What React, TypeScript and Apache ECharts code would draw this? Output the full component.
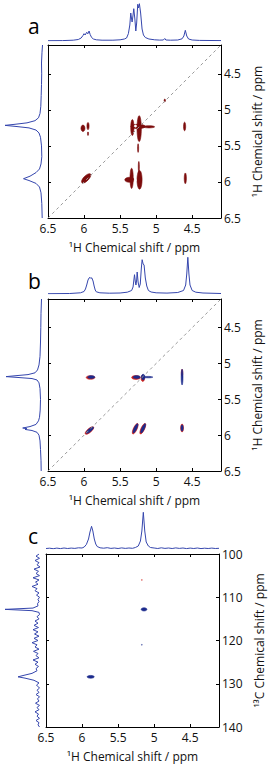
import React, { useEffect, useRef } from "react";
import * as echarts from "echarts";

// ---------- data ----------
const PPM_TICKS = [4.5, 5, 5.5, 6, 6.5];
const C13_TICKS = [100, 110, 120, 130, 140];
const PANEL_LABELS = ["a", "b", "c"];
const H_NAME = "¹H Chemical shift / ppm";
const C_NAME = "¹³C Chemical shift / ppm";

// 1D projections: [ppm, intensity]
const topProjA = [
  [6.5, 0.3], [6.3, 0.4], [6.15, 0.8], [6.08, 1.5], [6.04, 3.0], [6.015, 5.5], [6.0, 7.3], [5.985, 6.0],
  [5.963, 8.7], [5.948, 7.2], [5.93, 10.0], [5.915, 6.5], [5.895, 3.5], [5.87, 2.0], [5.83, 1.2], [5.75, 0.8],
  [5.6, 0.8], [5.5, 1.2], [5.44, 2.0], [5.41, 3.0], [5.385, 7.3], [5.365, 16], [5.352, 28], [5.34, 22],
  [5.333, 19], [5.32, 26], [5.31, 32.3], [5.295, 22], [5.282, 10], [5.27, 18], [5.255, 36.7], [5.245, 33],
  [5.232, 37.3], [5.215, 28], [5.195, 12], [5.176, 6], [5.15, 3.5], [5.1, 2.0], [5.02, 1.2], [4.95, 0.9],
  [4.9, 1.0], [4.88, 2.5], [4.865, 1.0], [4.8, 0.8], [4.7, 1.0], [4.64, 2.2], [4.615, 5], [4.595, 10.7],
  [4.575, 5], [4.55, 2], [4.5, 1.0], [4.4, 0.6], [4.1, 0.4],
];
const leftProjA = [
  [4.1, 0.5], [4.2, 1.0], [4.35, 1.5], [4.5, 1.3], [4.65, 1.5], [4.8, 1.8], [4.95, 2.2], [5.05, 3.0],
  [5.11, 4.5], [5.15, 8], [5.18, 16], [5.2, 28], [5.215, 38], [5.23, 27], [5.25, 14], [5.28, 7],
  [5.32, 4], [5.38, 2.5], [5.5, 1.5], [5.65, 1.2], [5.75, 2.0], [5.82, 3.5], [5.87, 7], [5.92, 13],
  [5.955, 19.5], [5.98, 14], [6.02, 7], [6.07, 3.5], [6.15, 2], [6.3, 1.2], [6.5, 0.8],
];
const topProjB = [
  [6.5, 0.3], [6.2, 0.5], [6.05, 1.2], [6.0, 2.5], [5.98, 5], [5.963, 9], [5.945, 14], [5.93, 16],
  [5.917, 16.7], [5.905, 15.5], [5.893, 16.2], [5.875, 13], [5.86, 8], [5.845, 4], [5.83, 2.2], [5.78, 1.2],
  [5.65, 0.8], [5.5, 1.0], [5.4, 1.8], [5.34, 3.5], [5.32, 7], [5.3, 19.3], [5.288, 12], [5.28, 9],
  [5.27, 14], [5.263, 22], [5.25, 12], [5.235, 6.5], [5.22, 10], [5.205, 26], [5.194, 34.3], [5.18, 30],
  [5.167, 29], [5.15, 16], [5.13, 8], [5.107, 3.5], [5.07, 2.0], [5.0, 1.2], [4.85, 0.9], [4.7, 1.5],
  [4.62, 3.5], [4.59, 9], [4.575, 20], [4.56, 36.7], [4.545, 20], [4.53, 9], [4.5, 3.5], [4.45, 1.8],
  [4.35, 1.0], [4.1, 0.5],
];
const leftProjB = [
  [4.1, 0.5], [4.3, 1.0], [4.5, 1.2], [4.7, 1.5], [4.9, 2.0], [5.02, 3], [5.09, 4.5], [5.13, 7],
  [5.155, 14], [5.17, 26], [5.183, 36], [5.195, 24], [5.21, 10], [5.23, 5], [5.27, 3], [5.35, 2],
  [5.5, 1.5], [5.65, 1.8], [5.75, 2.5], [5.8, 3.5], [5.85, 6], [5.88, 12], [5.9, 19.3], [5.91, 15],
  [5.92, 17], [5.935, 10], [5.96, 5], [6.0, 3], [6.08, 2], [6.2, 1.5], [6.35, 1.0], [6.5, 0.8],
];
const topProjC = [
  [6.5, 0.5], [6.45, 0.8], [6.4, 0.3], [6.35, 0.9], [6.3, 0.4], [6.25, 1.0], [6.2, 0.5], [6.15, 0.9],
  [6.1, 0.6], [6.05, 1.2], [6.0, 1.0], [5.97, 2.0], [5.94, 4.5], [5.91, 10], [5.89, 17], [5.868, 22.7],
  [5.85, 18], [5.83, 10], [5.81, 5], [5.79, 2.5], [5.75, 1.2], [5.7, 0.8], [5.65, 1.3], [5.6, 0.6],
  [5.55, 1.0], [5.5, 0.5], [5.45, 1.1], [5.4, 0.6], [5.35, 1.0], [5.3, 0.7], [5.26, 1.5], [5.22, 3],
  [5.19, 8], [5.17, 18], [5.15, 36.7], [5.13, 18], [5.11, 7], [5.08, 3], [5.05, 1.5], [5.0, 1.0],
  [4.95, 0.5], [4.9, 1.2], [4.85, 0.6], [4.8, 1.0], [4.75, 0.5], [4.7, 1.1], [4.65, 0.6], [4.6, 1.0],
  [4.55, 0.4], [4.5, 0.9], [4.45, 0.5], [4.4, 1.0], [4.35, 0.4], [4.3, 0.8], [4.25, 0.5], [4.2, 0.9],
  [4.15, 0.5], [4.1, 0.7],
];
const leftProjC = [
  [100, 2], [100.5, 5], [101, 1.5], [101.5, 6], [102, 2], [102.5, 4], [103, 1], [103.5, 7], [104, 2.5],
  [104.5, 5], [105, 1.5], [105.5, 8], [106, 2], [106.5, 5.5], [107, 3], [107.5, 9], [108, 4], [108.5, 6],
  [109, 2], [109.5, 4.5], [110, 1.5], [110.5, 3], [111, 2], [111.5, 3.5], [112, 3], [112.5, 8], [112.8, 36],
  [113.1, 9], [113.5, 2], [114, 1.5], [114.5, 4], [115, 2], [115.5, 6], [116, 3], [116.5, 7], [117, 2.5],
  [117.5, 8], [118, 3], [118.5, 6.5], [119, 2], [119.5, 7], [120, 3], [120.5, 9], [121, 4], [121.5, 6],
  [122, 2], [122.5, 7.5], [123, 3], [123.5, 5], [124, 2], [124.5, 8], [125, 3], [125.5, 6], [126, 2.5],
  [126.5, 5], [127, 4], [127.6, 9], [128.1, 18], [128.4, 23], [128.7, 16], [129.2, 7], [129.8, 2],
  [130.3, 4.5], [131, 1.5], [131.5, 4], [132, 2], [132.5, 5], [133, 1.5], [133.5, 3.5], [134, 2],
  [134.5, 5.5], [135, 1.5], [135.5, 4], [136, 2], [136.5, 6], [137, 2.5], [137.5, 4], [138, 1.5],
  [138.5, 5], [139, 2], [139.5, 3], [140, 1.5],
];

// 2D cross-peak contour blobs: [ppmX, ppmY, widthX, widthY, angleDeg]
const contourA = [
  [6.015, 5.255, 0.055, 0.09, 0], [5.945, 5.225, 0.03, 0.1, 0], [5.945, 5.33, 0.015, 0.05, 0],
  [5.33, 5.245, 0.045, 0.22, 0], [5.235, 5.26, 0.06, 0.36, 0], [5.25, 5.23, 0.2, 0.06, 0],
  [5.1, 5.235, 0.16, 0.03, 0], [5.25, 5.53, 0.015, 0.12, 0], [4.605, 5.23, 0.03, 0.12, 0],
  [5.97, 5.95, 0.17, 0.07, 45], [5.37, 5.97, 0.13, 0.07, 0], [5.34, 5.95, 0.045, 0.28, 0],
  [5.23, 5.97, 0.07, 0.26, 0], [5.24, 5.79, 0.015, 0.15, 0], [4.595, 5.95, 0.03, 0.15, 0],
  [4.88, 4.87, 0.02, 0.04, 0],
];
const holesA = [
  [5.287, 5.225, 0.035, 0.03, 0], [5.29, 5.975, 0.03, 0.035, 0],
];
const contourBRed = [
  [5.91, 5.195, 0.12, 0.05, 0], [5.28, 5.195, 0.12, 0.055, 0], [5.185, 5.205, 0.05, 0.09, 0],
  [4.64, 5.13, 0.02, 0.1, 0], [5.925, 5.935, 0.15, 0.055, 40], [5.29, 5.91, 0.16, 0.05, 65],
  [5.185, 5.91, 0.16, 0.05, 65], [4.64, 5.9, 0.04, 0.11, 0],
];
const contourBBlue = [
  [5.9, 5.19, 0.1, 0.04, 0], [5.27, 5.19, 0.1, 0.04, 0], [5.18, 5.19, 0.05, 0.08, 0],
  [5.11, 5.19, 0.13, 0.02, 0], [4.64, 5.19, 0.025, 0.22, 0], [5.92, 5.93, 0.13, 0.04, 40],
  [5.287, 5.905, 0.14, 0.035, 65], [5.18, 5.905, 0.14, 0.035, 65], [4.64, 5.9, 0.03, 0.09, 0],
];
const contourCBlue = [
  [5.14, 112.8, 0.08, 0.75, 0], [5.88, 128.4, 0.1, 0.65, 0], [5.17, 121, 0.01, 0.2, 0],
];
const contourCRed = [[5.17, 106, 0.012, 0.15, 0]];
const diagonal = [[6.5, 6.5], [4.1, 4.1]];

// ---------- styles ----------
const FONT = "'Open Sans', 'Noto Sans', sans-serif";
const BLUE_LINE = "#3546ad";
const RED_A = "#7c0c0c";
const RED_B = "#d0201a";
const BLUE_B = "#1b2a8c";

function ellipseRender(color: string) {
  return (params: any, api: any) => {
    const x = api.value(0), y = api.value(1);
    const c = api.coord([x, y]);
    const s = api.size([api.value(2), api.value(3)], [x, y]);
    return {
      type: "ellipse",
      x: c[0],
      y: c[1],
      rotation: (api.value(4) * Math.PI) / 180,
      shape: { cx: 0, cy: 0, rx: Math.abs(s[0]) / 2, ry: Math.abs(s[1]) / 2 },
      style: { fill: color, stroke: color, lineWidth: 0.6 },
    };
  };
}

const panels = [
  {
    main: [48, 45, 173, 173], top: [48, 1, 173, 40], left: [1, 45, 42, 173], leftMax: 42,
    yMin: 4.1, yMax: 6.5, yTicks: PPM_TICKS, yName: H_NAME,
    topData: topProjA, leftData: leftProjA, diag: true,
    contours: [{ data: contourA, color: RED_A }, { data: holesA, color: "#ffffff" }],
    label: [28, 26],
  },
  {
    main: [48, 299, 173, 172], top: [48, 254, 173, 40], left: [1, 299, 41, 172], leftMax: 41,
    yMin: 4.1, yMax: 6.5, yTicks: PPM_TICKS, yName: H_NAME,
    topData: topProjB, leftData: leftProjB, diag: true,
    contours: [{ data: contourBRed, color: RED_B }, { data: contourBBlue, color: BLUE_B }],
    label: [28, 281],
  },
  {
    main: [46, 554, 173, 173], top: [46, 509, 173, 40], left: [0, 554, 41, 173], leftMax: 41,
    yMin: 100, yMax: 140, yTicks: C13_TICKS, yName: C_NAME,
    topData: topProjC, leftData: leftProjC, diag: false,
    contours: [{ data: contourCRed, color: RED_B }, { data: contourCBlue, color: BLUE_B }],
    label: [28, 536],
  },
];

function buildOption() {
  const grid: any[] = [];
  const xAxis: any[] = [];
  const yAxis: any[] = [];
  const series: any[] = [];
  const graphic: any[] = [];
  const textStyle = { color: "#111", fontSize: 12, fontFamily: FONT };
  const line = { show: true, onZero: false, lineStyle: { color: "#000", width: 1 } };

  panels.forEach((p, i) => {
    const g = (r: number[]) => ({ left: r[0], top: r[1], width: r[2], height: r[3], outerBoundsMode: "none", containLabel: false });
    grid.push(g(p.main), g(p.top), g(p.left));
    const gi = 3 * i;
    const tick = (vals: number[]) => ({ show: true, inside: true, length: 3, customValues: vals, lineStyle: { color: "#000" } });
    // x axes
    xAxis.push({
      gridIndex: gi, type: "value", min: 4.1, max: 6.5, inverse: true, position: "bottom",
      axisLine: line, axisTick: tick(PPM_TICKS), splitLine: { show: false },
      axisLabel: { show: true, customValues: PPM_TICKS, margin: 4, ...textStyle },
      name: H_NAME, nameLocation: "middle", nameGap: 23, nameTextStyle: textStyle,
    });
    xAxis.push({
      gridIndex: gi, type: "value", min: 4.1, max: 6.5, inverse: true, position: "top",
      axisLine: line, axisTick: tick(PPM_TICKS), splitLine: { show: false }, axisLabel: { show: false },
    });
    xAxis.push({ gridIndex: gi + 1, type: "value", min: 4.1, max: 6.5, inverse: true, show: false });
    xAxis.push({ gridIndex: gi + 2, type: "value", min: 0, max: p.leftMax, inverse: true, show: false });
    // y axes
    yAxis.push({
      gridIndex: gi, type: "value", min: p.yMin, max: p.yMax, inverse: true, position: "right",
      axisLine: line, axisTick: tick(p.yTicks), splitLine: { show: false },
      axisLabel: { show: true, customValues: p.yTicks, margin: 3, ...textStyle },
      name: p.yName, nameLocation: "middle", nameRotate: 90, nameGap: 26, nameTextStyle: textStyle,
    });
    yAxis.push({
      gridIndex: gi, type: "value", min: p.yMin, max: p.yMax, inverse: true, position: "left",
      axisLine: line, axisTick: tick(p.yTicks), splitLine: { show: false }, axisLabel: { show: false },
    });
    yAxis.push({ gridIndex: gi + 1, type: "value", min: 0, max: 40, show: false });
    yAxis.push({ gridIndex: gi + 2, type: "value", min: p.yMin, max: p.yMax, inverse: true, show: false });

    const xi = 4 * i, yi = 4 * i;
    series.push({
      type: "line", xAxisIndex: xi + 2, yAxisIndex: yi + 2, data: p.topData, symbol: "none",
      lineStyle: { color: BLUE_LINE, width: 1 }, silent: true,
    });
    series.push({
      type: "line", xAxisIndex: xi + 3, yAxisIndex: yi + 3, data: p.leftData.map((d) => [d[1], d[0]]),
      symbol: "none", lineStyle: { color: BLUE_LINE, width: 1 }, silent: true,
    });
    if (p.diag) {
      series.push({
        type: "line", xAxisIndex: xi, yAxisIndex: yi, data: diagonal, symbol: "none",
        lineStyle: { color: "#999999", width: 1, type: [3, 3] }, silent: true,
      });
    }
    p.contours.forEach((c) => {
      series.push({
        type: "custom", xAxisIndex: xi, yAxisIndex: yi, data: c.data, encode: { x: 0, y: 1 },
        renderItem: ellipseRender(c.color), clip: true, silent: true,
      });
    });
    graphic.push({
      type: "text", x: p.label[0], y: p.label[1],
      style: { text: PANEL_LABELS[i], fontSize: 21, fontFamily: FONT, fill: "#000", verticalAlign: "middle" },
    });
  });

  return { animation: false, backgroundColor: "#fff", grid, xAxis, yAxis, series, graphic };
}

export default function App() {
  const ref = useRef<HTMLDivElement>(null);
  useEffect(() => {
    if (!ref.current) return;
    const chart = echarts.init(ref.current, undefined, { renderer: "svg" });
    chart.setOption(buildOption() as any);
    return () => chart.dispose();
  }, []);
  return (
    <div
      ref={ref}
      style={{ position: "fixed", left: 0, top: 0, width: 273, height: 769, background: "#fff" }}
    />
  );
}
